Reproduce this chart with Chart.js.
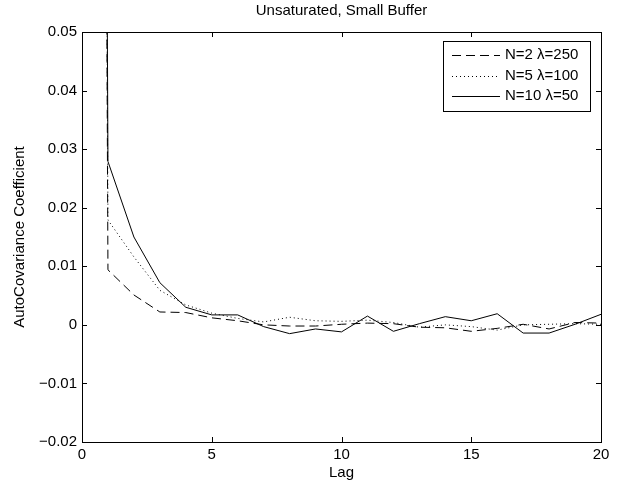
<!DOCTYPE html>
<html>
<head>
<meta charset="utf-8">
<script src="https://cdn.jsdelivr.net/npm/chart.js@4/dist/chart.umd.min.js"></script>
<style>
html,body{margin:0;padding:0;background:#fff;}
#wrap{width:623px;height:483px;position:relative;}
</style>
</head>
<body>
<div id="wrap"><canvas id="c" width="623" height="483"></canvas></div>
<script>
// ---- data ----
const lags = [0,1,2,3,4,5,6,7,8,9,10,11,12,13,14,15,16,17,18,19,20];
const seriesN2 = [1,0.0094,0.0051,0.0022,0.0021,0.0012,0.0007,0.0000,-0.0002,-0.0002,0.0001,0.0003,0.0002,-0.0004,-0.0005,-0.0011,-0.0006,0.0001,-0.0007,0.0004,0.0003];
const seriesN5 = [1,0.0179,0.0116,0.0059,0.0034,0.0020,0.0011,0.0005,0.0013,0.0007,0.0006,0.0008,0.0004,-0.0004,0.0000,-0.0003,-0.0009,0.0000,0.0001,0.0002,0.0001];
const seriesN10 = [1,0.0279,0.0150,0.0072,0.0030,0.0017,0.0017,-0.0003,-0.0015,-0.0007,-0.0012,0.0015,-0.0011,0.0002,0.0014,0.0007,0.0019,-0.0014,-0.0014,0.0001,0.0018];
const seriesLabels = ['N=2 \u03bb=250','N=5 \u03bb=100','N=10 \u03bb=50'];
const xTicks = [0,5,10,15,20];
const yTicks = [-0.02,-0.01,0,0.01,0.02,0.03,0.04,0.05];
const titleText = 'Unsaturated, Small Buffer';
const xTitle = 'Lag';
const yTitle = 'AutoCovariance Coefficient';

const FONT = '"Liberation Sans", Arial, Helvetica, sans-serif';
const FS = 15;
const dashes = [[9,5],[1,3],[]];

function pts(vals){ return lags.map((x,i)=>({x:x,y:vals[i]})); }

const boxPlugin = {
  id:'box',
  afterDatasetsDraw(chart){
    const ctx = chart.ctx, a = chart.chartArea;
    const xs = chart.scales.x, ys = chart.scales.y;
    ctx.save();
    ctx.strokeStyle = '#000';
    ctx.lineWidth = 1;
    // ticks inward
    ctx.beginPath();
    xTicks.forEach(v=>{
      const px = Math.round(xs.getPixelForValue(v))+0.5;
      ctx.moveTo(px,a.bottom); ctx.lineTo(px,a.bottom-5);
      ctx.moveTo(px,a.top); ctx.lineTo(px,a.top+5);
    });
    yTicks.forEach(v=>{
      const py = Math.round(ys.getPixelForValue(v))+0.5;
      ctx.moveTo(a.left,py); ctx.lineTo(a.left+5,py);
      ctx.moveTo(a.right,py); ctx.lineTo(a.right-5,py);
    });
    ctx.stroke();
    ctx.strokeRect(Math.round(a.left)+0.5, Math.round(a.top)+0.5, Math.round(a.right-a.left), Math.round(a.bottom-a.top));
    // titles
    ctx.fillStyle='#000';
    ctx.font = FS+'px '+FONT;
    ctx.textAlign='center'; ctx.textBaseline='middle';
    const cx = (a.left+a.right)/2;
    ctx.fillText(titleText, cx, 11);
    ctx.fillText(xTitle, cx, 473);
    ctx.save();
    ctx.translate(20,(a.top+a.bottom)/2);
    ctx.rotate(-Math.PI/2);
    ctx.fillText(yTitle,0,0);
    ctx.restore();
    // legend
    const lx0=443, ly0=41, lw=147, lh=70;
    ctx.fillStyle='#fff';
    ctx.fillRect(lx0,ly0,lw,lh);
    ctx.strokeRect(lx0+0.5,ly0+0.5,lw,lh);
    const rows=[55,75.5,96];
    chart.data.datasets.forEach((ds,i)=>{
      ctx.save();
      ctx.setLineDash(ds.borderDash||[]);
      ctx.beginPath();
      ctx.moveTo(452,Math.round(rows[i])+0.5); ctx.lineTo(500,Math.round(rows[i])+0.5);
      ctx.stroke();
      ctx.restore();
      ctx.fillStyle='#000';
      ctx.textAlign='left';
      ctx.fillText(ds.label,505,rows[i]);
    });
    ctx.restore();
  }
};

new Chart(document.getElementById('c'),{
  type:'line',
  data:{
    datasets:[seriesN2,seriesN5,seriesN10].map((s,i)=>({
      label:seriesLabels[i],
      data:pts(s),
      borderColor:'#000',
      borderWidth:1,
      borderDash:dashes[i],
      pointRadius:0,
      tension:0,
      fill:false
    }))
  },
  options:{
    responsive:false,
    animation:false,
    layout:{padding:{left:0,right:22,top:32,bottom:0}},
    plugins:{legend:{display:false},title:{display:false},tooltip:{enabled:false}},
    scales:{
      x:{
        type:'linear',min:0,max:20,
        afterBuildTicks(s){ s.ticks = xTicks.map(v=>({value:v})); },
        afterFit(s){ s.height=41; },
        grid:{display:false,drawTicks:false},
        border:{display:false},
        ticks:{color:'#000',font:{family:FONT,size:FS},padding:4,maxRotation:0,callback:v=>String(v)}
      },
      y:{
        type:'linear',min:-0.02,max:0.05,
        afterBuildTicks(s){ s.ticks = yTicks.map(v=>({value:v})); },
        afterFit(s){ s.width=82; },
        grid:{display:false,drawTicks:false},
        border:{display:false},
        ticks:{color:'#000',font:{family:FONT,size:FS},padding:5,
          callback:v=>{ const r=Math.round(v*100)/100; if(r===0) return '0'; return (r<0?'\u2212':'')+Math.abs(r).toFixed(2);} }
      }
    }
  },
  plugins:[boxPlugin]
});
</script>
</body>
</html>
